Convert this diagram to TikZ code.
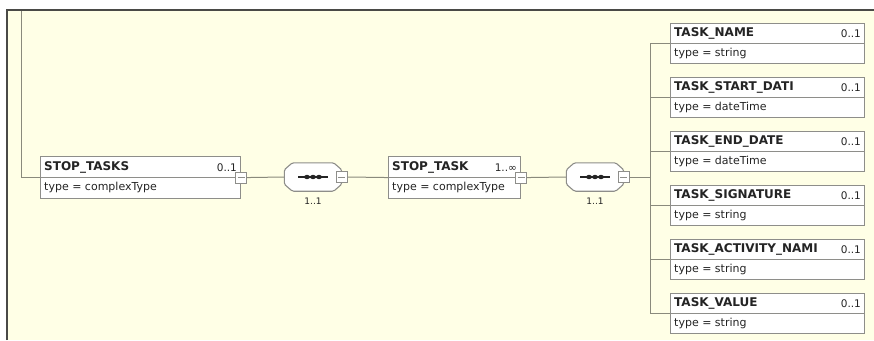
\documentclass[tikz,border=0pt]{standalone}
\usepackage{fontspec}
\setmainfont{DejaVu Sans}
\usetikzlibrary{backgrounds}
\definecolor{bg}{HTML}{FFFFE6}
\definecolor{boxline}{HTML}{8E8E8A}
\definecolor{conn}{HTML}{8A8A7C}
\definecolor{frame}{HTML}{4A4A46}
\definecolor{txt}{HTML}{242424}
\tikzset{
  elbox/.style={draw=boxline, line width=1.1pt, fill=white, rectangle, inner sep=0pt},
  titletext/.style={inner sep=0pt, text=txt, font=\fontsize{12}{14}\selectfont\bfseries},
  multtext/.style={inner sep=0pt, text=txt, font=\fontsize{10.5}{12}\selectfont},
  typetext/.style={inner sep=0pt, text=txt, font=\fontsize{11}{13}\selectfont},
  lbl/.style={inner sep=0pt, text=txt, font=\fontsize{9}{11}\selectfont},
  btn/.style={draw=boxline, line width=0.9pt, fill=white, rectangle, minimum size=11pt, inner sep=0pt},
  conn/.style={draw=conn, line width=1pt},
  seqanchor/.style={rectangle, inner sep=0pt, minimum width=57pt, minimum height=28pt},
  seqline/.style={draw=boxline, line width=1.1pt, fill=white, rounded corners=1.5pt}
}
\newcommand\elemnode[8]{%
  \node[elbox, minimum width=#4pt, minimum height=#5pt, anchor=north west] (#1) at (#2,#3) {};
  \draw[boxline, line width=1pt] (#1.west) -- (#1.east);
  \node[titletext, anchor=west] (#1-t) at ([xshift=4pt,yshift=10pt]#1.west) {#6};
  \node[multtext, anchor=east] (#1-m) at ([xshift=-4pt,yshift=10pt]#1.east) {#7};
  \node[typetext, anchor=west] (#1-y) at ([xshift=4pt,yshift=-10pt]#1.west) {#8};
}
\newcommand\minusbtn[2]{%
  \node[btn] (#1) at (#2) {};
  \draw[boxline, line width=0.9pt] ([xshift=2.5pt]#1.west) -- ([xshift=-2.5pt]#1.east);
}
\newcommand\seqnode[3]{%
  \node[seqanchor] (#1) at (#2,#3) {};
  \draw[seqline] ([xshift=8pt]#1.north west) -- ([xshift=-8pt]#1.north east)
    -- ([yshift=-7pt]#1.north east) -- ([yshift=7pt]#1.south east)
    -- ([xshift=-8pt]#1.south east) -- ([xshift=8pt]#1.south west)
    -- ([yshift=7pt]#1.south west) -- ([yshift=-7pt]#1.north west) -- cycle;
  \draw[txt, line width=1.3pt] ([xshift=-15pt]#1.center) -- ([xshift=15pt]#1.center);
  \foreach \dx in {-6,0,6} {\fill[txt] ([xshift=\dx pt]#1.center) ellipse (2.8pt and 2.2pt);}
  \node[lbl] (#1-l) at ([yshift=-10pt]#1.south) {1..1};
}
\begin{document}
\begin{tikzpicture}[x=1pt,y=-1pt]
\useasboundingbox (0,0) rectangle (874,340);

% anchors for free connector ends
\coordinate (topL) at (21,11);
\coordinate (bus) at (650,177);

% nodes
\elemnode{stoptasks}{40}{156}{200}{42}{STOP\_TASKS}{0..1}{type = complexType}
\elemnode{stoptask}{388}{156}{132}{42}{STOP\_TASK}{1..∞}{type = complexType}
\elemnode{c1}{670}{23}{194}{40}{TASK\_NAME}{0..1}{type = string}
\elemnode{c2}{670}{77}{194}{40}{TASK\_START\_DATI}{0..1}{type = dateTime}
\elemnode{c3}{670}{131}{194}{40}{TASK\_END\_DATE}{0..1}{type = dateTime}
\elemnode{c4}{670}{185}{194}{40}{TASK\_SIGNATURE}{0..1}{type = string}
\elemnode{c5}{670}{239}{194}{40}{TASK\_ACTIVITY\_NAMI}{0..1}{type = string}
\elemnode{c6}{670}{293}{194}{40}{TASK\_VALUE}{0..1}{type = string}
\seqnode{seq1}{313}{177}
\seqnode{seq2}{595}{177}
\minusbtn{b1}{stoptasks.east}
\minusbtn{b2}{seq1.east}
\minusbtn{b3}{stoptask.east}
\minusbtn{b4}{seq2.east}

\begin{pgfonlayer}{background}
  \fill[white] (0,0) rectangle (874,340);
  \fill[bg] (8,11) rectangle (874,340);
  \draw[frame, line width=2pt] (7,340) -- (7,10) -- (874,10);
  % connectors
  \draw[conn] (topL) |- (stoptasks.west);
  \draw[conn] (b1.east) -- (seq1.west);
  \draw[conn] (b2.east) -- (stoptask.west);
  \draw[conn] (b3.east) -- (seq2.west);
  \draw[conn] (b4.east) -- (bus);
  \draw[conn] (c1.west -| bus) -- (c6.west -| bus);
  \foreach \c in {c1,c2,c3,c4,c5,c6} {\draw[conn] (\c.west -| bus) -- (\c.west);}
\end{pgfonlayer}
\end{tikzpicture}
\end{document}
